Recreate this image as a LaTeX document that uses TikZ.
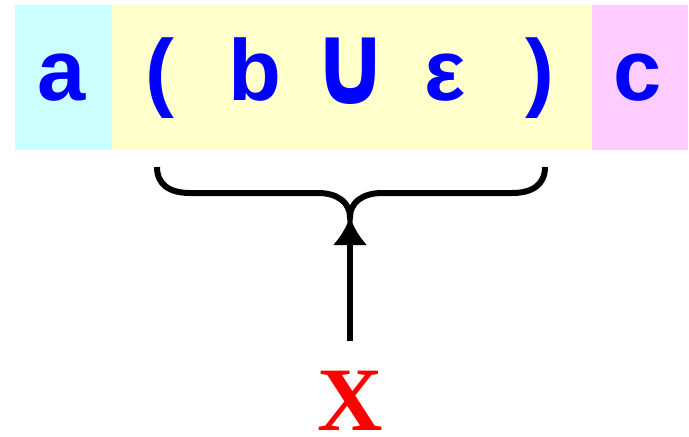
\documentclass[tikz,border=0pt]{standalone}
\usepackage{fontspec}
\setmainfont{Liberation Sans}
\newfontfamily\serifbold{Liberation Serif}
\newfontfamily\symfont{DejaVu Sans}
\usetikzlibrary{arrows.meta,calc,positioning}
\definecolor{boxcyan}{HTML}{CCFFFF}
\definecolor{boxyellow}{HTML}{FFFFCC}
\definecolor{boxpink}{HTML}{FFCCFF}

\begin{document}
\begin{tikzpicture}[>=Latex, x=0.75pt, y=-0.75pt,
  sym/.style={anchor=base, text=blue, font=\fontsize{65}{65}\selectfont\bfseries, inner sep=0pt}]
  \useasboundingbox (0,0) rectangle (689,436);
  \fill[boxcyan] (15,5) rectangle (112,150);
  \fill[boxyellow] (112,5) rectangle (592,150);
  \fill[boxpink] (592,5) rectangle (688,150);
  \node[sym] (a) at (62,100) {a};
  \node[sym] (lpar) at (160,100) {(};
  \node[sym] (b) at (255,100) {b};
  \node[sym] (cup) at (351,100) {\fontsize{98}{98}\symfont\bfseries\raisebox{-3pt}{\scalebox{0.74}[0.88]{∪}}};
  \node[sym] (eps) at (445,100) {ε};
  \node[sym] (rpar) at (540,100) {)};
  \node[sym] (c) at (638,100) {c};
  % brace under the group
  \coordinate (bl) at (157,167);
  \coordinate (br) at (545,167);
  \coordinate (tip) at (350,217);
  \draw[line width=4.5pt] (bl) .. controls (157,185) and (170,193) .. (190,193)
    -- (318,193) .. controls (338,193) and (350,203) .. (tip)
    .. controls (350,203) and (362,193) .. (382,193)
    -- (512,193) .. controls (532,193) and (545,185) .. (br);
  \node[anchor=base, text=red, font=\fontsize{68}{68}\selectfont\serifbold\bfseries, inner sep=0pt] (X) at (350,430) {X};
  \draw[line width=4.5pt, arrows={-Latex[length=21pt,width=26pt]}] ([yshift=22pt]X.north) -- (tip);
\end{tikzpicture}
\end{document}
